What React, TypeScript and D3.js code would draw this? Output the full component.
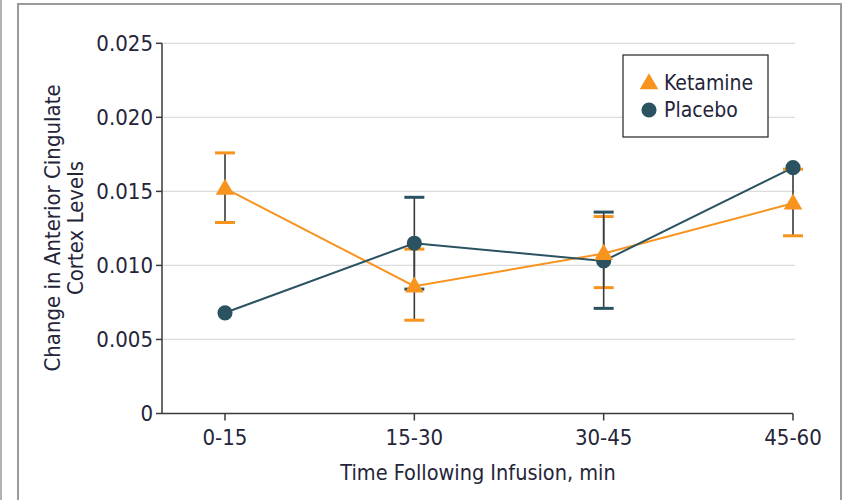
import React from "react";
import * as d3 from "d3";

const categories = ["0-15", "15-30", "30-45", "45-60"];
const ketamineMean = [0.0152, 0.0086, 0.0108, 0.0142];
const ketamineLow = [0.0129, 0.0063, 0.0085, 0.0120];
const ketamineHigh = [0.0176, 0.0111, 0.0133, 0.0165];
const placeboMean = [0.0068, 0.0115, 0.0103, 0.0166];
const placeboLow = [0.0068, 0.0084, 0.0071, 0.0166];
const placeboHigh = [0.0068, 0.0146, 0.0136, 0.0166];
const yTicks = [0, 0.005, 0.01, 0.015, 0.02, 0.025];
const yTickLabels = ["0", "0.005", "0.010", "0.015", "0.020", "0.025"];
const seriesNames = ["Ketamine", "Placebo"];

const ORANGE = "#F7941E";
const TEAL = "#2B5261";
const TEXT = "#25253a";
const AXIS = "#3a3a3a";
const FONT = "'DejaVu Sans Condensed', 'Liberation Sans Narrow', sans-serif";

export default function App() {
  const W = 844, H = 500;
  const axisLeft = 162, axisRight = 793;
  const y = d3.scaleLinear().domain([0, 0.025]).range([413.5, 43.3]);
  const x = d3.scalePoint<string>().domain(categories).range([225, 793]);

  const line = d3.line<number>().x((_, i) => x(categories[i])!).y((d) => y(d));
  const tri = d3.symbol().type(d3.symbolTriangle).size(150)();
  const circ = d3.symbol().type(d3.symbolCircle).size(180)();

  const errBars = (low: number[], high: number[], color: string, key: string) =>
    categories.map((c, i) => {
      if (high[i] - low[i] < 1e-9) return null;
      const cx = x(c)!;
      return (
        <g key={key + i}>
          <line x1={cx} x2={cx} y1={y(low[i])} y2={y(high[i])} stroke={AXIS} strokeWidth={1.6} />
          <line x1={cx - 10} x2={cx + 10} y1={y(low[i])} y2={y(low[i])} stroke={color} strokeWidth={3} />
          <line x1={cx - 10} x2={cx + 10} y1={y(high[i])} y2={y(high[i])} stroke={color} strokeWidth={3} />
        </g>
      );
    });

  return (
    <svg width={W} height={H} style={{ position: "absolute", left: 0, top: 0 }} fontFamily={FONT}>
      <rect x={0} y={0} width={W} height={H} fill="#fff" />
      {/* frame */}
      <line x1={1} x2={1} y1={0} y2={H} stroke="#9a9a9a" strokeWidth={1.5} />
      <path d={`M18,${H} V4 H841 V${H}`} fill="none" stroke="#9a9a9a" strokeWidth={2} />
      {/* grid */}
      {yTicks.slice(1).map((t) => (
        <line key={t} x1={axisLeft} x2={795} y1={y(t)} y2={y(t)} stroke="#dcdcdc" strokeWidth={1.3} />
      ))}
      {/* axes */}
      <line x1={axisLeft} x2={axisLeft} y1={y(0.025)} y2={y(0)} stroke={AXIS} strokeWidth={1.5} />
      <line x1={axisLeft} x2={axisRight} y1={y(0)} y2={y(0)} stroke={AXIS} strokeWidth={1.5} />
      {yTicks.map((t, i) => (
        <g key={"yt" + t}>
          <line x1={axisLeft - 6} x2={axisLeft} y1={y(t)} y2={y(t)} stroke={AXIS} strokeWidth={1.5} />
          <text x={axisLeft - 9} y={y(t)} dy="0.36em" textAnchor="end" fontSize={22} fill={TEXT}>
            {yTickLabels[i]}
          </text>
        </g>
      ))}
      {categories.map((c) => (
        <g key={"xt" + c}>
          <line x1={x(c)} x2={x(c)} y1={y(0)} y2={y(0) + 7} stroke={AXIS} strokeWidth={1.5} />
          <text x={x(c)} y={445} textAnchor="middle" fontSize={22} fill={TEXT}>
            {c}
          </text>
        </g>
      ))}
      <text x={478} y={480} textAnchor="middle" fontSize={21.5} fill={TEXT}>
        Time Following Infusion, min
      </text>
      <g transform="translate(60,228) rotate(-90)">
        <text x={0} y={0} textAnchor="middle" fontSize={22} fill={TEXT}>
          Change in Anterior Cingulate
        </text>
        <text x={0} y={23} textAnchor="middle" fontSize={22} fill={TEXT}>
          Cortex Levels
        </text>
      </g>
      {/* lines */}
      <path d={line(ketamineMean)!} fill="none" stroke={ORANGE} strokeWidth={2} />
      <path d={line(placeboMean)!} fill="none" stroke={TEAL} strokeWidth={2} />
      {/* error bars */}
      {errBars(ketamineLow, ketamineHigh, ORANGE, "k")}
      {errBars(placeboLow, placeboHigh, TEAL, "p")}
      {/* markers */}
      {placeboMean.map((v, i) => (
        <path key={"pm" + i} d={circ!} transform={`translate(${x(categories[i])},${y(v)})`} fill={TEAL} />
      ))}
      {ketamineMean.map((v, i) => (
        <path key={"km" + i} d={tri!} transform={`translate(${x(categories[i])},${y(v) + 1})`} fill={ORANGE} />
      ))}
      {/* legend */}
      <rect x={623} y={55} width={145} height={82} fill="#fff" stroke="#333" strokeWidth={1.3} />
      <path d={tri!} transform="translate(649,84)" fill={ORANGE} />
      <text x={664} y={82} dy="0.36em" fontSize={21} fill={TEXT}>{seriesNames[0]}</text>
      <path d={circ!} transform="translate(649,110)" fill={TEAL} />
      <text x={664} y={109} dy="0.36em" fontSize={21} fill={TEXT}>{seriesNames[1]}</text>
    </svg>
  );
}
